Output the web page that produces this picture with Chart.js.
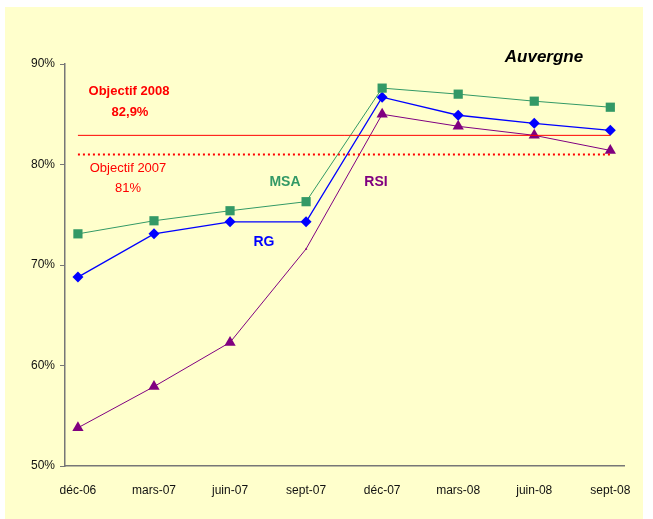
<!DOCTYPE html>
<html lang="fr">
<head>
    <meta charset="UTF-8">
    <title>Auvergne</title>
    <script src="https://cdn.jsdelivr.net/npm/chart.js"></script>
    <style>
        body {
            margin: 0;
            padding: 0;
            background: #fff;
            font-family: Arial, "Liberation Sans", sans-serif;
        }
        .frame {
            position: absolute;
            left: 5px;
            top: 7px;
            width: 638px;
            height: 512px;
            background: #ffffcc;
        }
    </style>
</head>
<body>
    <div class="frame">
        <canvas id="chart" width="638" height="512"></canvas>
    </div>

    <script>
        // data
        const categories = ['déc-06', 'mars-07', 'juin-07', 'sept-07', 'déc-07', 'mars-08', 'juin-08', 'sept-08'];
        const msa = [73.1, 74.4, 75.4, 76.3, 87.6, 87.0, 86.3, 85.7];
        const rg  = [68.8, 73.1, 74.3, 74.3, 86.7, 84.9, 84.1, 83.4];
        const rsi = [53.8, 57.9, 62.3, 71.6, 85.0, 83.8, 82.9, 81.4];
        const objectif2008 = 82.9;
        const objectif2007 = 81;
        const yTicks = [50, 60, 70, 80, 90];

        const pts = arr => arr.map((v, i) => ({ x: i, y: v }));
        const flat = v => [{ x: 0, y: v }, { x: categories.length - 1, y: v }];

        // free text on the plot
        const labelsPlugin = {
            id: 'labels',
            afterDraw(chart) {
                const ctx = chart.ctx;
                ctx.save();
                ctx.textAlign = 'center';
                ctx.textBaseline = 'middle';
                const put = (txt, x, y, font, color) => {
                    ctx.font = font;
                    ctx.fillStyle = color;
                    ctx.fillText(txt, x, y);
                };
                put('Auvergne', 539, 50, 'italic bold 17px Arial', '#000');
                put('Objectif 2008', 124, 84, 'bold 13px Arial', '#ff0000');
                put('82,9%', 125, 105, 'bold 13px Arial', '#ff0000');
                put('Objectif 2007', 123, 161, '13px Arial', '#ff0000');
                put('81%', 123, 181, '13px Arial', '#ff0000');
                put('MSA', 280, 175, 'bold 14px Arial', '#339966');
                put('RG', 259, 235, 'bold 14px Arial', '#0000ff');
                put('RSI', 371, 175, 'bold 14px Arial', '#800080');
                ctx.restore();
            }
        };

        const ctx = document.getElementById('chart').getContext('2d');
        new Chart(ctx, {
            type: 'line',
            data: {
                datasets: [
                    {
                        label: 'Objectif 2008',
                        data: flat(objectif2008),
                        borderColor: '#ff0000',
                        borderWidth: 1,
                        pointRadius: 0
                    },
                    {
                        label: 'Objectif 2007',
                        data: flat(objectif2007),
                        borderColor: '#ff0000',
                        borderWidth: 2,
                        borderDash: [2, 3],
                        pointRadius: 0
                    },
                    {
                        label: 'MSA',
                        data: pts(msa),
                        borderColor: '#339966',
                        backgroundColor: '#339966',
                        borderWidth: 1,
                        pointStyle: 'rect',
                        pointRadius: 6.5,
                        pointBorderWidth: 0
                    },
                    {
                        label: 'RG',
                        data: pts(rg),
                        borderColor: '#0000ff',
                        backgroundColor: '#0000ff',
                        borderWidth: 1.3,
                        pointStyle: 'rectRot',
                        pointRadius: 5.5,
                        pointBorderWidth: 0
                    },
                    {
                        label: 'RSI',
                        data: pts(rsi),
                        borderColor: '#800080',
                        backgroundColor: '#800080',
                        borderWidth: 1,
                        pointStyle: 'triangle',
                        pointRadius: [6.5, 6.5, 6.5, 1.5, 6.5, 6.5, 6.5, 6.5],
                        pointBorderWidth: 0
                    }
                ]
            },
            options: {
                responsive: false,
                animation: false,
                layout: {
                    padding: { left: 0, right: 19, top: 57, bottom: 0 }
                },
                plugins: {
                    legend: { display: false },
                    tooltip: { enabled: false }
                },
                scales: {
                    x: {
                        type: 'linear',
                        min: -0.17,
                        max: categories.length - 1 + 0.18,
                        afterFit: s => { s.height = 53; },
                        afterBuildTicks: s => { s.ticks = categories.map((c, i) => ({ value: i })); },
                        grid: { display: false },
                        border: { display: true, color: '#777', width: 1.5 },
                        ticks: {
                            autoSkip: false,
                            maxRotation: 0,
                            padding: 9,
                            color: '#111',
                            font: { family: 'Arial', size: 12 },
                            callback: v => categories[v]
                        }
                    },
                    y: {
                        min: 50,
                        max: 90,
                        afterFit: s => { s.width = 60; },
                        afterBuildTicks: s => { s.ticks = yTicks.map(v => ({ value: v })); },
                        grid: {
                            drawOnChartArea: false,
                            drawTicks: true,
                            tickLength: 5,
                            color: '#777'
                        },
                        border: { display: true, color: '#777', width: 1.5 },
                        ticks: {
                            padding: 5,
                            color: '#111',
                            font: { family: 'Arial', size: 12 },
                            callback: v => v + '%'
                        }
                    }
                }
            },
            plugins: [labelsPlugin]
        });
    </script>
</body>
</html>
